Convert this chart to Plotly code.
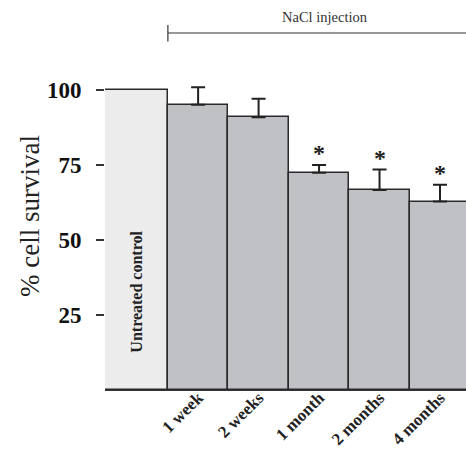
import plotly.graph_objects as go

# Data
categories = ["Untreated control", "1 week", "2 weeks", "1 month", "2 months", "4 months"]
survival = [100, 95.1, 90.9, 72.4, 66.7, 62.8]
error_up = [0, 5.8, 6.2, 2.6, 6.8, 5.6]
significant = [False, False, False, True, True, True]
y_ticks = [25, 50, 75, 100]

x_pos = [-0.02, 1, 2, 3, 4, 5]
widths = [1.04, 1, 1, 1, 1, 1]
colors = ["#ececec"] + ["#c0c1c4"] * 5

FONT = "Liberation Serif"

fig = go.Figure()
fig.add_trace(go.Bar(
    x=x_pos, y=survival, width=widths,
    marker=dict(color=colors, line=dict(color="#2a2a2a", width=1.5)),
    showlegend=False, hoverinfo="skip",
))
# error bars (upward only) for the treated groups
fig.add_trace(go.Scatter(
    x=x_pos[1:], y=survival[1:], mode="markers",
    marker=dict(size=1, color="rgba(0,0,0,0)"),
    error_y=dict(type="data", symmetric=False, array=error_up[1:],
                 arrayminus=[0] * (len(survival) - 1),
                 color="#222222", thickness=2, width=7),
    showlegend=False, hoverinfo="skip",
))

annotations = []
for xi, v, e, s in zip(x_pos, survival, error_up, significant):
    if s:
        annotations.append(dict(x=xi, y=v + e, xref="x", yref="y", text="<b>*</b>",
                                showarrow=False, yanchor="bottom", yshift=-3,
                                font=dict(family=FONT, size=24, color="#222")))

annotations.append(dict(x=x_pos[0] + 0.01, y=32.8, xref="x", yref="y", text="<b>" + categories[0] + "</b>",
                        textangle=-90, showarrow=False,
                        font=dict(family=FONT, size=16, color="#222")))
annotations.append(dict(x=-75 / 361, y=(390 - 216) / 390, xref="paper", yref="paper",
                        text="% cell survival", textangle=-90, showarrow=False,
                        xanchor="center", yanchor="middle",
                        font=dict(family=FONT, size=27, color="#222")))
annotations.append(dict(x=3.1, y=124.3, xref="x", yref="y", text="NaCl injection",
                        showarrow=False, font=dict(family=FONT, size=14.5, color="#333")))

fig.update_layout(
    width=466, height=454,
    margin=dict(l=105, r=0, t=0, b=64, autoexpand=False),
    paper_bgcolor="white", plot_bgcolor="white",
    bargap=0,
    annotations=annotations,
    shapes=[
        dict(type="line", xref="x", yref="y", x0=0.5, x1=5.43, y0=119, y1=119,
             line=dict(color="#333", width=1.2)),
        dict(type="line", xref="x", yref="y", x0=0.5, x1=0.5, y0=116.2, y1=121.7,
             line=dict(color="#333", width=1.2)),
    ],
    xaxis=dict(range=[-0.54, 5.43], tickmode="array", tickvals=x_pos[1:],
               ticktext=["<b>" + c + "</b>" for c in categories[1:]],
               tickangle=-45, showline=True, linecolor="#333", linewidth=1.2,
               showgrid=False, zeroline=False, ticks="", automargin=False,
               ticklabelstandoff=-10,
               tickfont=dict(family=FONT, size=17, color="#222")),
    yaxis=dict(range=[0, 130], tickmode="array", tickvals=y_ticks,
               ticktext=["<b>%d</b>" % t for t in y_ticks],
               ticks="outside", ticklen=8, tickwidth=1.5, tickcolor="#333",
               showline=False, showgrid=False, zeroline=False, automargin=False,
               ticklabelstandoff=10,
               tickfont=dict(family=FONT, size=23, color="#111")),
)

fig.write_html("out.html", config={"displayModeBar": False},
               post_script="document.body.style.margin='0';document.body.style.overflow='hidden';")
